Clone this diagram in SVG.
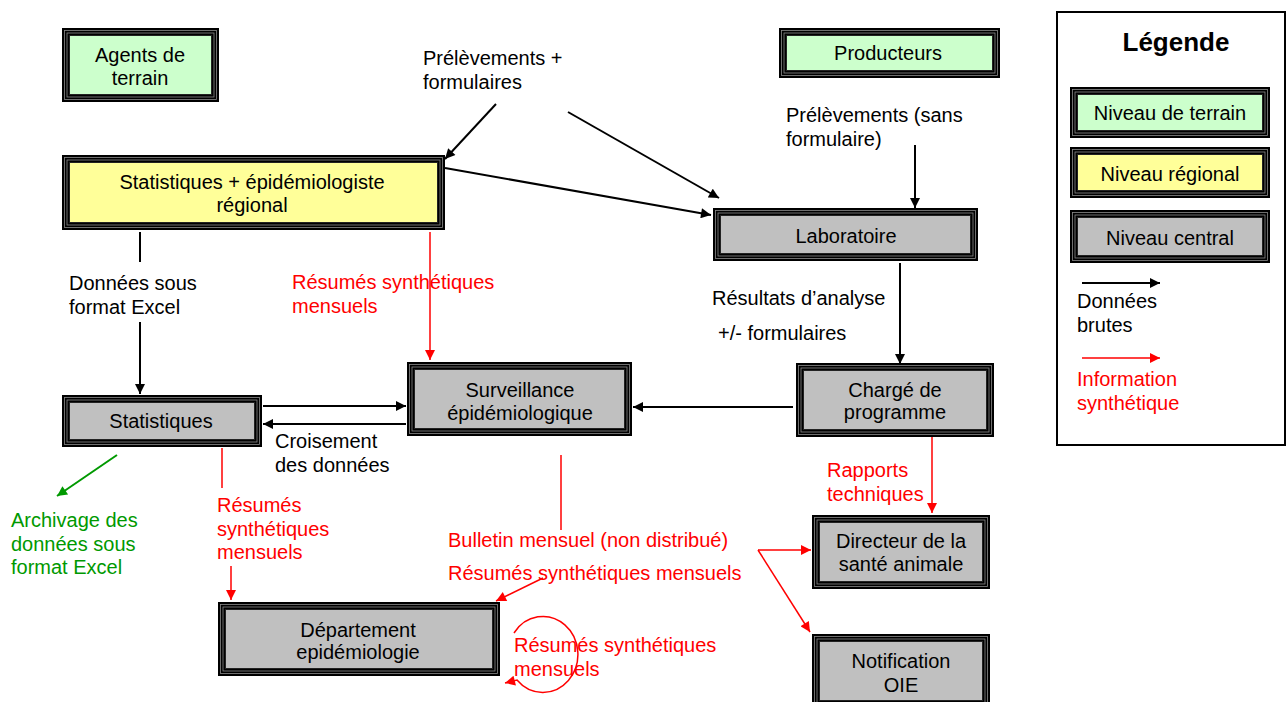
<svg xmlns="http://www.w3.org/2000/svg" width="1286" height="702" viewBox="0 0 1286 702">
<style>
text{font-family:"Liberation Sans",Arial,sans-serif;font-size:20px;fill:#000}
.c{text-anchor:middle}
.r{fill:#ff0000}
.g{fill:#009900}
.o{fill:#000}
.l{fill:none;stroke:#8a8a8a;stroke-width:0.8}
.fg{fill:#ccffcc;stroke:#222;stroke-width:1}
.fy{fill:#ffff99;stroke:#222;stroke-width:1}
.fc{fill:#c0c0c0;stroke:#222;stroke-width:1}
.k{stroke:#000;stroke-width:2;fill:none}
.kr{stroke:#ff0000;stroke-width:1.5;fill:none}
.kg{stroke:#009900;stroke-width:2;fill:none}
</style>
<defs>
<marker id="ab" viewBox="0 0 10 10" refX="10" refY="5" markerWidth="11" markerHeight="10" markerUnits="userSpaceOnUse" orient="auto"><path d="M0,0L10,5L0,10z" fill="#000"/></marker>
<marker id="ar" viewBox="0 0 10 10" refX="10" refY="5" markerWidth="12" markerHeight="10" markerUnits="userSpaceOnUse" orient="auto"><path d="M0,0L10,5L0,10z" fill="#ff0000"/></marker>
<marker id="ag" viewBox="0 0 10 10" refX="10" refY="5" markerWidth="12" markerHeight="10" markerUnits="userSpaceOnUse" orient="auto"><path d="M0,0L10,5L0,10z" fill="#009900"/></marker>
</defs>
<rect width="1286" height="702" fill="#fff"/>

<g id="agents">
<rect class="o" x="62" y="28" width="157" height="74"/><rect class="l" x="64.5" y="30.5" width="152" height="69"/><rect class="l" x="67" y="33" width="147" height="64"/>
<rect class="fg" x="69.5" y="35.5" width="142" height="59"/>
<text class="c" x="140" y="62">Agents de</text><text class="c" x="140" y="85">terrain</text>
</g>
<g id="producteurs">
<rect class="o" x="779" y="28" width="221" height="50"/><rect class="l" x="781.5" y="30.5" width="216" height="45"/><rect class="l" x="784" y="33" width="211" height="40"/>
<rect class="fg" x="786.5" y="35.5" width="206" height="35"/>
<text class="c" x="888" y="60">Producteurs</text>
</g>
<g id="regional">
<rect class="o" x="62" y="155" width="383" height="75"/><rect class="l" x="64.5" y="157.5" width="378" height="70"/><rect class="l" x="67" y="160" width="373" height="65"/>
<rect class="fy" x="69.5" y="162.5" width="368" height="60"/>
<text class="c" x="252" y="189">Statistiques + épidémiologiste</text><text class="c" x="252" y="212">régional</text>
</g>
<g id="laboratoire">
<rect class="o" x="713" y="208" width="265" height="53"/><rect class="l" x="715.5" y="210.5" width="260" height="48"/><rect class="l" x="718" y="213" width="255" height="43"/>
<rect class="fc" x="720.5" y="215.5" width="250" height="38"/>
<text class="c" x="846" y="243">Laboratoire</text>
</g>
<g id="statistiques">
<rect class="o" x="62" y="395" width="200" height="52"/><rect class="l" x="64.5" y="397.5" width="195" height="47"/><rect class="l" x="67" y="400" width="190" height="42"/>
<rect class="fc" x="69.5" y="402.5" width="185" height="37"/>
<text class="c" x="161" y="428">Statistiques</text>
</g>
<g id="surveillance">
<rect class="o" x="407" y="362" width="225" height="74"/><rect class="l" x="409.5" y="364.5" width="220" height="69"/><rect class="l" x="412" y="367" width="215" height="64"/>
<rect class="fc" x="414.5" y="369.5" width="210" height="59"/>
<text class="c" x="520" y="397">Surveillance</text><text class="c" x="520" y="420">épidémiologique</text>
</g>
<g id="charge">
<rect class="o" x="796" y="363" width="198" height="74"/><rect class="l" x="798.5" y="365.5" width="193" height="69"/><rect class="l" x="801" y="368" width="188" height="64"/>
<rect class="fc" x="803.5" y="370.5" width="183" height="59"/>
<text class="c" x="895" y="397">Chargé de</text><text class="c" x="895" y="419">programme</text>
</g>
<g id="directeur">
<rect class="o" x="812" y="515" width="178" height="74"/><rect class="l" x="814.5" y="517.5" width="173" height="69"/><rect class="l" x="817" y="520" width="168" height="64"/>
<rect class="fc" x="819.5" y="522.5" width="163" height="59"/>
<text class="c" x="901" y="548">Directeur de la</text><text class="c" x="901" y="571">santé animale</text>
</g>
<g id="oie">
<rect class="o" x="812" y="634" width="178" height="74"/><rect class="l" x="814.5" y="636.5" width="173" height="69"/><rect class="l" x="817" y="639" width="168" height="64"/>
<rect class="fc" x="819.5" y="641.5" width="163" height="59"/>
<text class="c" x="901" y="668">Notification</text><text class="c" x="901" y="692">OIE</text>
</g>
<g id="departement">
<rect class="o" x="218" y="602" width="282" height="74"/><rect class="l" x="220.5" y="604.5" width="277" height="69"/><rect class="l" x="223" y="607" width="272" height="64"/>
<rect class="fc" x="225.5" y="609.5" width="267" height="59"/>
<text class="c" x="358" y="637">Département</text><text class="c" x="358" y="659">epidémiologie</text>
</g>

<g id="legende">
<rect x="1057" y="12" width="228" height="433" fill="#fff" stroke="#000" stroke-width="2"/>
<text class="c" x="1176" y="51" style="font-size:26px;font-weight:bold">Légende</text>
<rect class="o" x="1070" y="87" width="200" height="51"/><rect class="l" x="1072.5" y="89.5" width="195" height="46"/><rect class="l" x="1075" y="92" width="190" height="41"/>
<rect class="fg" x="1077.5" y="94.5" width="185" height="36"/>
<text class="c" x="1170" y="120">Niveau de terrain</text>
<rect class="o" x="1070" y="147" width="200" height="51"/><rect class="l" x="1072.5" y="149.5" width="195" height="46"/><rect class="l" x="1075" y="152" width="190" height="41"/>
<rect class="fy" x="1077.5" y="154.5" width="185" height="36"/>
<text class="c" x="1170" y="181">Niveau régional</text>
<rect class="o" x="1070" y="210" width="200" height="53"/><rect class="l" x="1072.5" y="212.5" width="195" height="48"/><rect class="l" x="1075" y="215" width="190" height="43"/>
<rect class="fc" x="1077.5" y="217.5" width="185" height="38"/>
<text class="c" x="1170" y="245">Niveau central</text>
<line class="k" x1="1082" y1="283" x2="1160" y2="283" marker-end="url(#ab)"/>
<text x="1077" y="308">Données</text><text x="1077" y="332">brutes</text>
<line class="kr" x1="1082" y1="358" x2="1160" y2="358" stroke-width="2" marker-end="url(#ar)"/>
<text class="r" x="1077" y="386">Information</text><text class="r" x="1077" y="410">synthétique</text>
</g>

<g id="connectors">
<line class="k" x1="496" y1="104" x2="445" y2="159" marker-end="url(#ab)"/>
<line class="k" x1="568" y1="112" x2="719" y2="198" marker-end="url(#ab)"/>
<line class="k" x1="445" y1="168" x2="711" y2="215" marker-end="url(#ab)"/>
<line class="k" x1="915" y1="145" x2="915" y2="208" marker-end="url(#ab)"/>
<line class="k" x1="900" y1="263" x2="900" y2="364" marker-end="url(#ab)"/>
<line class="k" x1="793" y1="407" x2="633" y2="407" marker-end="url(#ab)"/>
<line class="k" x1="263" y1="406" x2="406" y2="406" marker-end="url(#ab)"/>
<line class="k" x1="406" y1="424" x2="263" y2="424" marker-end="url(#ab)"/>
<line class="k" x1="140" y1="232" x2="140" y2="262"/>
<line class="k" x1="140" y1="322" x2="140" y2="394" marker-end="url(#ab)"/>
<line class="kr" x1="430" y1="232" x2="430" y2="360" marker-end="url(#ar)"/>
<line class="kg" x1="117" y1="455" x2="57" y2="496" marker-end="url(#ag)"/>
<line class="kr" x1="222" y1="448" x2="222" y2="488"/>
<line class="kr" x1="231" y1="566" x2="231" y2="600" stroke-width="2" marker-end="url(#ar)"/>
<line class="kr" x1="561" y1="455" x2="561" y2="530"/>
<line class="kr" x1="543" y1="578" x2="496" y2="601" stroke-width="2" marker-end="url(#ar)"/>
<path class="kr" d="M514,633 A35,38 0 1 1 517,680 L505,683" marker-end="url(#ar)"/>
<line class="kr" x1="932" y1="437" x2="932" y2="513" stroke-width="2" marker-end="url(#ar)"/>
<line class="kr" x1="758" y1="550" x2="811" y2="550" stroke-width="2" marker-end="url(#ar)"/>
<line class="kr" x1="758" y1="550" x2="810" y2="632" stroke-width="2" marker-end="url(#ar)"/>
</g>

<g id="labels">
<text x="423" y="65">Prélèvements +</text><text x="423" y="89">formulaires</text>
<text x="786" y="122">Prélèvements (sans</text><text x="786" y="146">formulaire)</text>
<text x="712" y="305">Résultats d’analyse</text><text x="718" y="340">+/- formulaires</text>
<text x="69" y="290">Données sous</text><text x="69" y="314">format Excel</text>
<text x="275" y="448">Croisement</text><text x="275" y="472">des données</text>
<text class="r" x="292" y="289">Résumés synthétiques</text><text class="r" x="292" y="313">mensuels</text>
<text class="g" x="11" y="527">Archivage des</text><text class="g" x="11" y="551">données sous</text><text class="g" x="11" y="574">format Excel</text>
<text class="r" x="217" y="512">Résumés</text><text class="r" x="217" y="536">synthétiques</text><text class="r" x="217" y="559">mensuels</text>
<text class="r" x="448" y="547">Bulletin mensuel (non distribué)</text>
<text class="r" x="448" y="580">Résumés synthétiques mensuels</text>
<text class="r" x="514" y="652">Résumés synthétiques</text><text class="r" x="514" y="676">mensuels</text>
<text class="r" x="827" y="477">Rapports</text><text class="r" x="827" y="501">techniques</text>
</g>
</svg>
